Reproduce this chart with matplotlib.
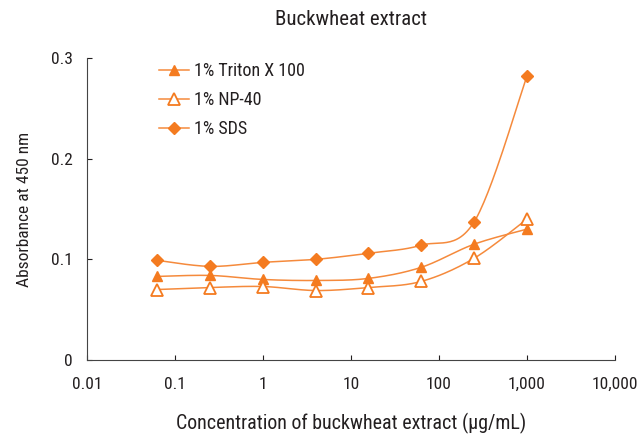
import numpy as np
import matplotlib
matplotlib.use('Agg')
import matplotlib.pyplot as plt
from matplotlib import font_manager

# condensed face if there is one, else Liberation Sans
names = {f.name for f in font_manager.fontManager.ttflist}
fam = [n for n in ['Roboto Condensed', 'Liberation Sans Narrow', 'Liberation Sans'] if n in names]
plt.rcParams['font.family'] = fam + ['DejaVu Sans']

# concentration (ug/mL), 4-fold dilutions
conc = [0.0625, 0.25, 1, 4, 15.6, 62.5, 250, 1000]
triton = [0.083, 0.084, 0.080, 0.079, 0.081, 0.092, 0.115, 0.130]
np40 = [0.070, 0.072, 0.073, 0.069, 0.072, 0.078, 0.101, 0.140]
sds = [0.099, 0.093, 0.097, 0.100, 0.106, 0.114, 0.137, 0.282]

xticks = [0.01, 0.1, 1, 10, 100, 1000, 10000]
xticklabels = ['0.01', '0.1', '1', '10', '100', '1,000', '10,000']
yticks = [0, 0.1, 0.2, 0.3]
yticklabels = ['0', '0.1', '0.2', '0.3']

orange = '#F47B20'
line_col = '#F58A3C'
text_col = '#231F20'


def smooth(x, y, n=30):
    # excel-like smoothed line (bezier through the points), done in screen-ish units
    u = np.log10(np.asarray(x, float)) * 88.0
    v = np.asarray(y, float) * 1007.0
    pts = np.column_stack([u, v])
    P = np.vstack([pts[0], pts, pts[-1]])
    out = []
    t = np.linspace(0, 1, n)[:, None]
    for i in range(1, len(P) - 2):
        p0, p1, p2, p3 = P[i - 1], P[i], P[i + 1], P[i + 2]
        c1 = p1 + (p2 - p0) / 6.0
        c2 = p2 - (p3 - p1) / 6.0
        seg = ((1 - t) ** 3) * p1 + 3 * ((1 - t) ** 2) * t * c1 + 3 * (1 - t) * t ** 2 * c2 + t ** 3 * p2
        out.append(seg if i == 1 else seg[1:])
    out = np.vstack(out)
    return 10 ** (out[:, 0] / 88.0), out[:, 1] / 1007.0


fig = plt.figure(figsize=(6.41, 4.34), dpi=100)
ax = fig.add_axes([87 / 641, 1 - 360 / 434, (615 - 87) / 641, (360 - 58) / 434])

series = [
    (triton, '1% Triton X 100', dict(marker='^', mfc=orange, mec=orange, ms=7.5)),
    (np40, '1% NP-40', dict(marker='^', mfc='white', mec=orange, ms=8, mew=1.3)),
    (sds, '1% SDS', dict(marker='D', mfc=orange, mec=orange, ms=6.5)),
]
handles = []
for vals, lab, mk in series:
    sx, sy = smooth(conc, vals)
    ax.plot(sx, sy, color=line_col, lw=1.1, zorder=2)
    ax.plot(conc, vals, ls='none', zorder=3, **mk)
    h, = ax.plot([], [], color=line_col, lw=1.1, **mk)
    h.set_label(lab)
    handles.append(h)

ax.set_xscale('log')
ax.set_xlim(0.01, 10000)
ax.set_ylim(0, 0.3)
ax.set_xticks(xticks)
ax.set_xticklabels(xticklabels)
ax.minorticks_off()
ax.set_yticks(yticks)
ax.set_yticklabels(yticklabels)
ax.tick_params(direction='in', length=3.5, width=0.8, colors=text_col, labelsize=12.5, pad=10)
ax.tick_params(axis='x', pad=12)
for s in ['top', 'right']:
    ax.spines[s].set_visible(False)
for s in ['left', 'bottom']:
    ax.spines[s].set_color('#444444')
    ax.spines[s].set_linewidth(0.8)

ax.set_xlabel('Concentration of buckwheat extract (\u03bcg/mL)', fontsize=14.4, color=text_col, labelpad=15)
ax.set_ylabel('Absorbance at 450 nm', fontsize=12.5, color=text_col, labelpad=14)
ax.set_title('Buckwheat extract', fontsize=15, color=text_col, pad=24)

ax.legend(handles=handles, loc='upper left', bbox_to_anchor=(0.105, 1.04), frameon=False,
          fontsize=13, handlelength=1.7, handletextpad=0.25, labelspacing=0.6, labelcolor=text_col)

fig.savefig('out.png', dpi=100)
